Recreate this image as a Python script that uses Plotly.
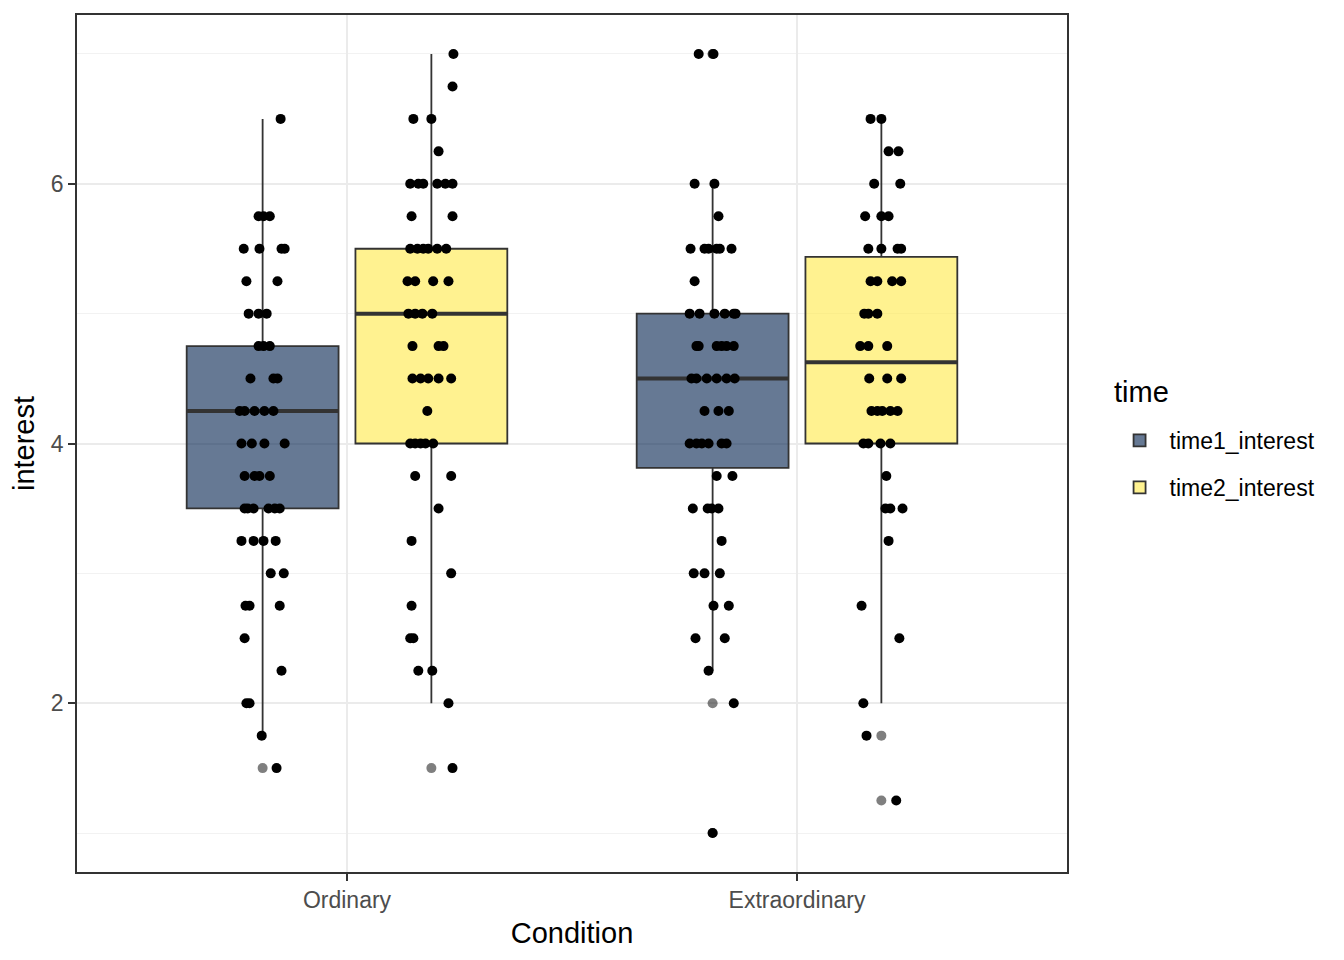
import plotly.graph_objects as go

# ---------------- data ----------------
conditions = ["Ordinary", "Extraordinary"]
times = ["time1_interest", "time2_interest"]

# box statistics: [Ordinary, Extraordinary]
q1 = {"time1_interest": [3.5, 3.8125], "time2_interest": [4.0, 4.0]}
medians = {"time1_interest": [4.25, 4.5], "time2_interest": [5.0, 4.625]}
q3 = {"time1_interest": [4.75, 5.0], "time2_interest": [5.5, 5.4375]}
lower_whisker = {"time1_interest": [1.75, 2.25], "time2_interest": [2.0, 2.0]}
upper_whisker = {"time1_interest": [6.5, 6.0], "time2_interest": [7.0, 6.5]}

outliers_ord_t1 = [1.5]
outliers_ord_t2 = [1.5]
outliers_ext_t1 = [7.0, 7.0, 2.0, 1.0]
outliers_ext_t2 = [1.75, 1.25]

# jittered observations (value, horizontal jitter in category units)
ord_t1_values = [6.5, 5.75, 5.75, 5.75, 5.5, 5.5, 5.5, 5.5, 5.25, 5.25,
                 5.0, 5.0, 5.0, 4.75, 4.75, 4.75, 4.5, 4.5, 4.5,
                 4.25, 4.25, 4.25, 4.25, 4.25, 4.0, 4.0, 4.0, 4.0,
                 3.75, 3.75, 3.75, 3.75, 3.5, 3.5, 3.5, 3.5, 3.5, 3.5,
                 3.25, 3.25, 3.25, 3.25, 3.0, 3.0, 2.75, 2.75, 2.75,
                 2.5, 2.25, 2.0, 2.0, 1.75, 1.5]
ord_t1_jitter = [0.040, -0.009, 0.002, 0.016, -0.042, -0.007, 0.042, 0.049, -0.036, 0.033,
                 -0.031, -0.009, 0.009, -0.009, 0.002, 0.016, -0.027, 0.024, 0.033,
                 -0.051, -0.040, -0.018, 0.004, 0.024, -0.047, -0.024, 0.004, 0.049,
                 -0.040, -0.018, -0.007, 0.016, -0.040, -0.033, -0.020, 0.013, 0.027, 0.038,
                 -0.047, -0.020, 0.002, 0.029, 0.018, 0.047, -0.038, -0.029, 0.038,
                 -0.040, 0.042, -0.036, -0.029, -0.002, 0.031]

ord_t2_values = [7.0, 6.75, 6.5, 6.5, 6.25, 6.0, 6.0, 6.0, 6.0, 6.0, 6.0,
                 5.75, 5.75, 5.5, 5.5, 5.5, 5.5, 5.5, 5.5,
                 5.25, 5.25, 5.25, 5.25, 5.0, 5.0, 5.0, 5.0,
                 4.75, 4.75, 4.75, 4.5, 4.5, 4.5, 4.5, 4.5, 4.25,
                 4.0, 4.0, 4.0, 4.0, 4.0, 3.75, 3.75, 3.5, 3.25, 3.0, 2.75,
                 2.5, 2.5, 2.25, 2.25, 2.0, 1.5]
ord_t2_jitter = [0.049, 0.047, -0.040, 0.0, 0.016, -0.047, -0.029, -0.018, 0.013, 0.031, 0.047,
                 -0.044, 0.047, -0.047, -0.031, -0.018, -0.007, 0.013, 0.033,
                 -0.053, -0.036, 0.004, 0.038, -0.051, -0.036, -0.020, 0.002,
                 -0.042, 0.016, 0.027, -0.042, -0.024, -0.007, 0.016, 0.044, -0.009,
                 -0.047, -0.036, -0.024, -0.013, 0.004, -0.036, 0.044, 0.016, -0.044, 0.044, -0.044,
                 -0.047, -0.040, -0.029, 0.002, 0.038, 0.047]

ext_t1_values = [7.0, 7.0, 6.0, 6.0, 5.75, 5.5, 5.5, 5.5, 5.5, 5.5, 5.5, 5.25,
                 5.0, 5.0, 5.0, 5.0, 5.0, 5.0, 4.75, 4.75, 4.75, 4.75, 4.75, 4.75,
                 4.5, 4.5, 4.5, 4.5, 4.5, 4.5, 4.25, 4.25, 4.25,
                 4.0, 4.0, 4.0, 4.0, 4.0, 4.0, 3.75, 3.75, 3.5, 3.5, 3.5, 3.5,
                 3.25, 3.0, 3.0, 3.0, 2.75, 2.75, 2.5, 2.5, 2.25, 2.0, 1.0]
ext_t1_jitter = [-0.031, 0.002, -0.040, 0.004, 0.013, -0.049, -0.018, -0.009, 0.009, 0.016, 0.042, -0.040,
                 -0.051, -0.029, 0.004, 0.027, 0.047, 0.051, -0.036, -0.031, 0.009, 0.020, 0.031, 0.047,
                 -0.047, -0.036, -0.013, 0.009, 0.031, 0.049, -0.018, 0.013, 0.036,
                 -0.051, -0.036, -0.024, -0.009, 0.020, 0.031, 0.009, 0.044, -0.044, -0.011, -0.002, 0.013,
                 0.020, -0.042, -0.018, 0.016, 0.002, 0.036, -0.038, 0.027, -0.009, 0.047, 0.0]

ext_t2_values = [6.5, 6.5, 6.25, 6.25, 6.0, 6.0, 5.75, 5.75, 5.75, 5.5, 5.5, 5.5, 5.5,
                 5.25, 5.25, 5.25, 5.25, 5.0, 5.0, 5.0, 4.75, 4.75, 4.75, 4.5, 4.5, 4.5,
                 4.25, 4.25, 4.25, 4.25, 4.25, 4.0, 4.0, 4.0, 4.0, 3.75, 3.5, 3.5, 3.5,
                 3.25, 2.75, 2.5, 2.0, 1.75, 1.25]
ext_t2_jitter = [-0.024, 0.0, 0.016, 0.038, -0.016, 0.042, -0.036, 0.0, 0.016, -0.029, 0.0, 0.036, 0.044,
                 -0.024, -0.009, 0.024, 0.044, -0.038, -0.029, -0.009, -0.047, -0.029, 0.013, -0.027, 0.013, 0.044,
                 -0.022, -0.009, 0.002, 0.020, 0.036, -0.040, -0.029, -0.002, 0.020, 0.011, 0.009, 0.020, 0.047,
                 0.016, -0.044, 0.040, -0.040, -0.033, 0.033]

points = {
    ("Ordinary", "time1_interest"): (ord_t1_values, ord_t1_jitter, outliers_ord_t1),
    ("Ordinary", "time2_interest"): (ord_t2_values, ord_t2_jitter, outliers_ord_t2),
    ("Extraordinary", "time1_interest"): (ext_t1_values, ext_t1_jitter, outliers_ext_t1),
    ("Extraordinary", "time2_interest"): (ext_t2_values, ext_t2_jitter, outliers_ext_t2),
}

# ---------------- styling ----------------
fills = {"time1_interest": "rgba(0,32,77,0.6)", "time2_interest": "rgba(255,234,70,0.6)"}
dodge = {"time1_interest": -0.1875, "time2_interest": 0.1875}
box_width = 0.3375
edge = "#333333"
font = "Liberation Sans, Arial, sans-serif"

fig = go.Figure()

# boxes
for t in times:
    xs = [i + 1 + dodge[t] for i in range(len(conditions))]
    fig.add_trace(go.Box(
        x=xs, q1=q1[t], median=medians[t], q3=q3[t],
        lowerfence=lower_whisker[t], upperfence=upper_whisker[t],
        width=box_width, whiskerwidth=0, boxpoints=False,
        fillcolor=fills[t], line=dict(color=edge, width=1.8),
        name=t, legendgroup=t, showlegend=True, hoverinfo="skip",
    ))

# thick median lines
for t in times:
    for i, c in enumerate(conditions):
        xc = i + 1 + dodge[t]
        fig.add_trace(go.Scatter(
            x=[xc - box_width / 2, xc + box_width / 2],
            y=[medians[t][i], medians[t][i]],
            mode="lines", line=dict(color=edge, width=4),
            showlegend=False, hoverinfo="skip",
        ))

# outliers (drawn at box centre)
for (c, t), (vals, jit, outs) in points.items():
    xc = conditions.index(c) + 1 + dodge[t]
    fig.add_trace(go.Scatter(
        x=[xc] * len(outs), y=outs, mode="markers",
        marker=dict(color="black", size=10, opacity=0.5),
        showlegend=False, hoverinfo="skip",
    ))

# jittered points
for (c, t), (vals, jit, outs) in points.items():
    xc = conditions.index(c) + 1 + dodge[t]
    fig.add_trace(go.Scatter(
        x=[xc + j for j in jit], y=vals, mode="markers",
        marker=dict(color="black", size=10),
        showlegend=False, hoverinfo="skip",
    ))

fig.add_annotation(
    text="time", xref="paper", yref="paper", x=1.0455, y=0.560,
    xanchor="left", yanchor="middle", showarrow=False,
    font=dict(size=29, color="black", family=font),
)

fig.update_layout(
    width=1336, height=952,
    margin=dict(l=69, r=277, t=7, b=88, autoexpand=False),
    paper_bgcolor="white", plot_bgcolor="white",
    boxmode="overlay",
    font=dict(family=font, color="black"),
    legend=dict(
        font=dict(size=23, color="black"),
        x=1.043, xanchor="left", y=0.5286, yanchor="top",
        tracegroupgap=14, itemwidth=50,
    ),
    xaxis=dict(
        range=[0.4, 2.6], tickmode="array", tickvals=[1, 2], ticktext=conditions,
        showgrid=True, gridcolor="#EBEBEB", gridwidth=1.5,
        zeroline=False, showline=True, linecolor=edge, linewidth=1.5, mirror=True,
        ticks="outside", ticklen=7, tickwidth=1.5, tickcolor=edge,
        tickfont=dict(size=23, color="#4D4D4D", family=font),
        title=dict(text="Condition", font=dict(size=29, color="black"), standoff=10),
        automargin=False,
    ),
    yaxis=dict(
        range=[0.7, 7.3], tickmode="array", tickvals=[2, 4, 6],
        showgrid=True, gridcolor="#EBEBEB", gridwidth=1.5,
        minor=dict(tickmode="array", tickvals=[1, 3, 5, 7], showgrid=True,
                   gridcolor="#F2F2F2", gridwidth=1, ticks=""),
        zeroline=False, showline=True, linecolor=edge, linewidth=1.5, mirror=True,
        ticks="outside", ticklen=7, tickwidth=1.5, tickcolor=edge,
        tickfont=dict(size=23, color="#4D4D4D", family=font),
        title=dict(text="interest", font=dict(size=29, color="black"), standoff=8),
        automargin=False,
    ),
)

fig.write_html("out.html")
